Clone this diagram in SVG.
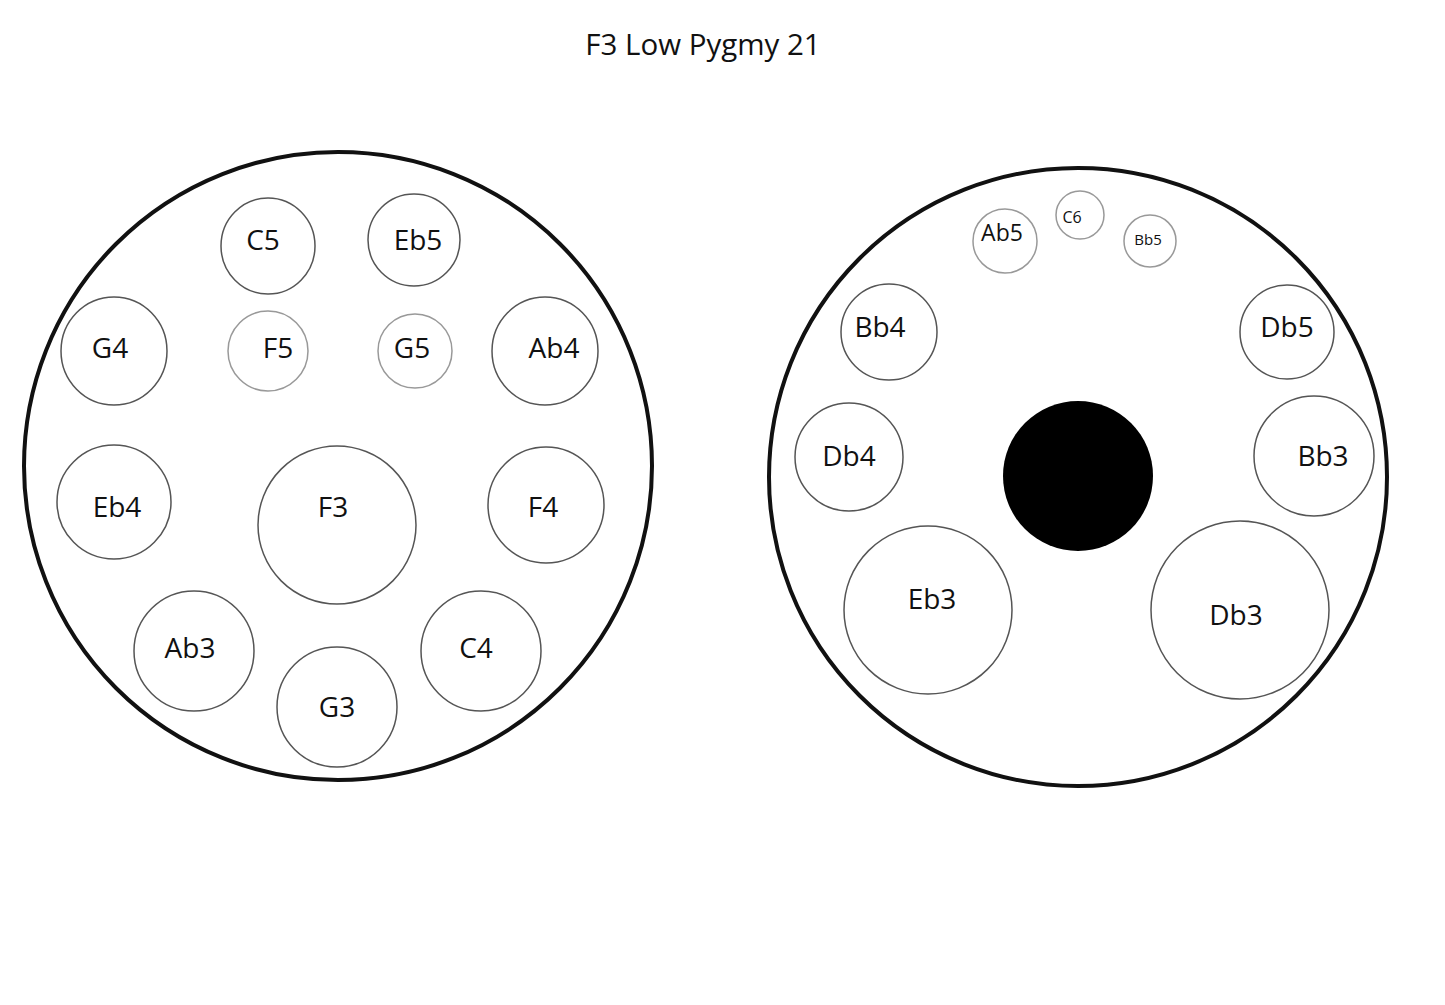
<svg xmlns="http://www.w3.org/2000/svg" width="1445" height="1005" viewBox="0 0 1445 1005">
<style>
.body{fill:#fff;stroke:#111;stroke-width:4}
.n{fill:#fff;stroke:#555;stroke-width:1.5}
.s{fill:#fff;stroke:#999;stroke-width:1.5}
text{font-family:"Open Sans","Noto Sans","Liberation Sans",sans-serif;fill:#111;text-anchor:middle;dominant-baseline:central;font-size:28px}
</style>
<rect width="1445" height="1005" fill="#fff"/>
<text x="703" y="43" style="font-size:29.5px">F3 Low Pygmy 21</text>
<g id="top">
<circle class="body" cx="338" cy="466" r="314"/>
<g id="C5"><ellipse class="n" cx="268" cy="246" rx="47" ry="48"/><text x="263" y="239">C5</text></g>
<g id="Eb5"><circle class="n" cx="414" cy="240" r="46"/><text x="418" y="239">Eb5</text></g>
<g id="G4"><ellipse class="n" cx="114" cy="351" rx="53" ry="54"/><text x="110" y="347">G4</text></g>
<g id="F5"><circle class="s" cx="268" cy="351" r="40"/><text x="278" y="347">F5</text></g>
<g id="G5"><circle class="s" cx="415" cy="351" r="37"/><text x="412" y="347">G5</text></g>
<g id="Ab4"><ellipse class="n" cx="545" cy="351" rx="53" ry="54"/><text x="554" y="347">Ab4</text></g>
<g id="Eb4"><circle class="n" cx="114" cy="502" r="57"/><text x="117" y="506">Eb4</text></g>
<g id="F3"><circle class="n" cx="337" cy="525" r="79"/><text x="333" y="506">F3</text></g>
<g id="F4"><circle class="n" cx="546" cy="505" r="58"/><text x="543" y="506">F4</text></g>
<g id="Ab3"><circle class="n" cx="194" cy="651" r="60"/><text x="190" y="647">Ab3</text></g>
<g id="G3"><circle class="n" cx="337" cy="707" r="60"/><text x="337" y="706">G3</text></g>
<g id="C4"><circle class="n" cx="481" cy="651" r="60"/><text x="476" y="647">C4</text></g>
</g>
<g id="bottom">
<circle class="body" cx="1078" cy="477" r="309"/>
<g id="Ab5"><circle class="s" cx="1005" cy="241" r="32"/><text x="1002" y="232" style="font-size:23px">Ab5</text></g>
<g id="C6"><circle class="s" cx="1080" cy="215" r="24"/><text x="1072" y="217" style="font-size:16px">C6</text></g>
<g id="Bb5"><circle class="s" cx="1150" cy="241" r="26"/><text x="1148" y="239" style="font-size:15px">Bb5</text></g>
<g id="Bb4"><circle class="n" cx="889" cy="332" r="48"/><text x="880" y="326">Bb4</text></g>
<g id="Db5"><circle class="n" cx="1287" cy="332" r="47"/><text x="1287" y="326">Db5</text></g>
<g id="Db4"><circle class="n" cx="849" cy="457" r="54"/><text x="849" y="455">Db4</text></g>
<g id="Bb3"><circle class="n" cx="1314" cy="456" r="60"/><text x="1323" y="455">Bb3</text></g>
<g id="port"><circle cx="1078" cy="476" r="75" fill="#000"/></g>
<g id="Eb3"><circle class="n" cx="928" cy="610" r="84"/><text x="932" y="598">Eb3</text></g>
<g id="Db3"><circle class="n" cx="1240" cy="610" r="89"/><text x="1236" y="614">Db3</text></g>
</g>
<g id="connectors"/>
</svg>
